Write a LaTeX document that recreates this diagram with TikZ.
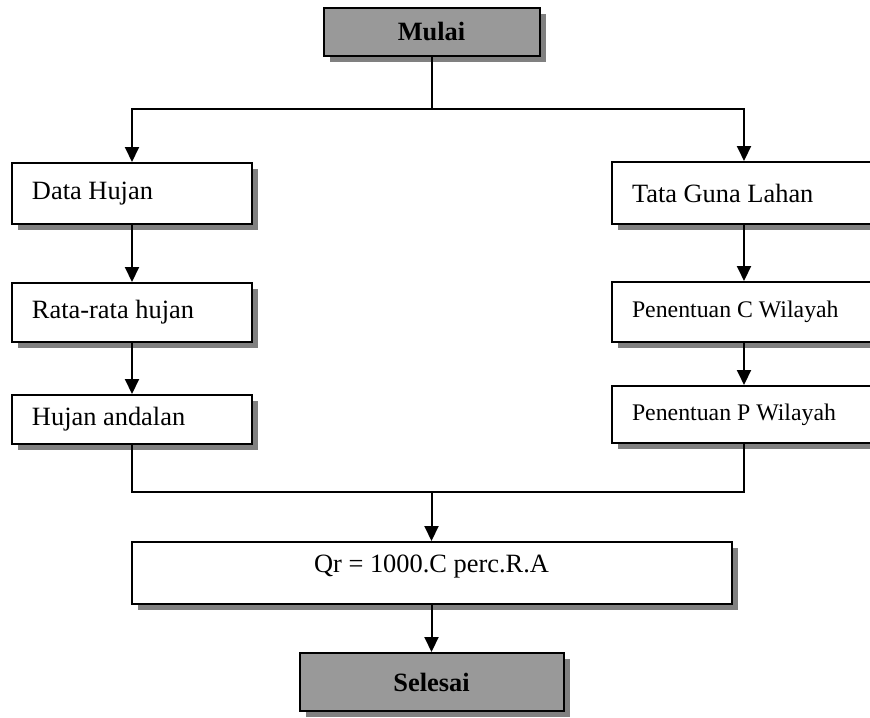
\documentclass[tikz,border=0pt]{standalone}
\usepackage{fontspec}
\setmainfont{Liberation Serif}
\usetikzlibrary{positioning, arrows.meta, shadows}

\newcommand{\boxfont}{\fontsize{13.2}{15}\selectfont}
\newcommand{\smallboxfont}{\fontsize{11.9}{14}\selectfont}

\begin{document}
\begin{tikzpicture}[x=0.5pt, y=-0.5pt,
                box/.style={draw, line width=1pt, fill=white, font=\boxfont,
                        drop shadow={shadow xshift=3pt, shadow yshift=-3pt, fill=black!50, opacity=1}},
                lbox/.style={box, minimum width=120pt, inner xsep=10pt, text width=100pt, align=flush left},
                rbox/.style={box, minimum width=132pt, inner xsep=10pt, text width=112pt, align=flush left},
                term/.style={box, fill=black!40, font=\boxfont\bfseries},
                line/.style={line width=1pt},
                arr/.style={-{Triangle[length=7.5pt, width=7pt]}, line width=1pt}]
                \useasboundingbox (0,0) rectangle (870,717);

                % Start / end
                \node[term, minimum width=108pt, minimum height=24pt] (mulai) at (431.5,32) {Mulai};
                \node[term, minimum width=132pt, minimum height=29pt] (selesai) at (431.5,682) {Selesai};

                % Left column
                \node[lbox, minimum height=30.5pt] (hujan) at (132,193.5) {Data Hujan};
                \node[lbox, minimum height=29.5pt] (rata) at (132,312.5) {Rata-rata hujan};
                \node[lbox, minimum height=24.5pt] (andalan) at (132,419.5) {Hujan andalan};

                % Right column
                \node[rbox, minimum height=31pt] (lahan) at (744,193) {Tata Guna Lahan};
                \node[rbox, minimum height=30pt, font=\smallboxfont] (koefc) at (744,312) {Penentuan C Wilayah};
                \node[rbox, minimum height=28.5pt, font=\smallboxfont] (koefp) at (744,414.5) {Penentuan P Wilayah};

                % Result
                \node[box, minimum width=300pt, minimum height=31pt, text height=9pt, text depth=10pt] (debit) at (431.5,573) {Qr = 1000.C perc.R.A};

                \coordinate (split) at (431.5,109);
                \coordinate (join) at (431.5,492);

                \draw[line] (mulai) -- (split);
                \draw[arr] (split) -| (hujan);
                \draw[arr] (split) -| (lahan);

                \draw[arr] (hujan) -- (rata);
                \draw[arr] (rata) -- (andalan);
                \draw[arr] (lahan) -- (koefc);
                \draw[arr] (koefc) -- (koefp);

                \draw[line] (andalan) |- (join);
                \draw[line] (koefp) |- (join);
                \draw[arr] (join) -- (debit);
                \draw[arr] (debit) -- (selesai);
            \end{tikzpicture}
\end{document}
